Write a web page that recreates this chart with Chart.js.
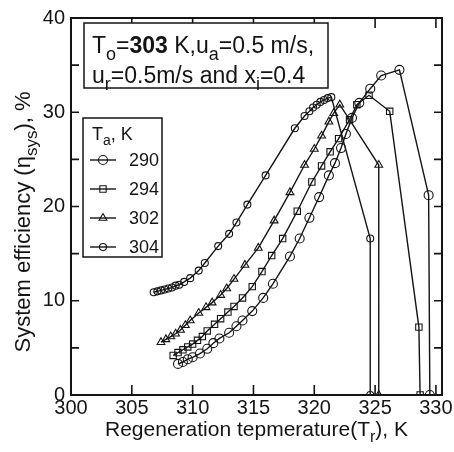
<!DOCTYPE html>
<html>
<head>
<meta charset="utf-8">
<script src="https://cdn.jsdelivr.net/npm/chart.js@4.4.0/dist/chart.umd.min.js"></script>
<style>
  body { margin: 0; background: #fff; }
  #wrap { width: 454px; height: 452px; }
</style>
</head>
<body>
<div id="wrap"><canvas id="effChart" width="454" height="452"></canvas></div>
<script>
// tick values
const xTickVals = [300, 305, 310, 315, 320, 325, 330];
const yTickVals = [0, 10, 20, 30, 40];

// ambient temperature levels (legend)
const seriesNames = ['290', '294', '302', '304'];

// Ta = 290 K
const tr290 = [308.8, 309.2, 309.6, 310.0, 310.6, 311.2, 311.7, 312.2, 313.0, 313.6, 314.1, 314.9, 315.8, 316.6, 318.0, 318.8, 319.6, 320.4, 321.2, 321.7, 322.2, 322.6, 323.1, 323.7, 324.6, 325.5, 327.0, 329.4, 329.5];
const eta290 = [3.3, 3.5, 3.8, 4.0, 4.4, 4.9, 5.5, 6.0, 6.6, 7.3, 7.9, 8.9, 10.3, 11.8, 14.7, 16.6, 18.8, 21.0, 23.3, 24.6, 26.2, 27.7, 29.4, 31.0, 32.5, 33.9, 34.5, 21.2, 0];

// Ta = 294 K
const tr294 = [308.4, 308.8, 309.2, 309.6, 310.0, 310.4, 310.8, 311.2, 311.8, 312.3, 312.9, 313.4, 314.1, 314.9, 315.7, 316.5, 317.4, 318.6, 319.8, 320.6, 321.3, 322.0, 322.9, 323.5, 324.5, 326.2, 328.6, 328.7];
const eta294 = [4.2, 4.5, 4.8, 5.1, 5.4, 5.8, 6.2, 6.8, 7.5, 8.1, 8.8, 9.4, 10.3, 11.5, 13.1, 14.8, 16.6, 19.5, 22.6, 24.3, 25.8, 27.2, 29.2, 30.8, 31.8, 30.1, 7.2, 0];

// Ta = 302 K
const tr302 = [307.4, 307.8, 308.2, 308.6, 309.0, 309.4, 309.8, 310.5, 311.1, 311.6, 312.3, 312.8, 313.4, 314.3, 315.4, 316.7, 318.0, 319.2, 320.0, 320.6, 321.2, 321.6, 322.1, 325.3, 325.3];
const eta302 = [5.6, 5.9, 6.2, 6.5, 6.9, 7.4, 7.9, 8.7, 9.3, 9.8, 10.6, 11.3, 12.3, 13.8, 15.6, 18.5, 21.5, 24.4, 26.1, 27.5, 29.0, 29.9, 30.8, 24.4, 0];

// Ta = 304 K
const tr304 = [306.8, 307.1, 307.4, 307.7, 308.0, 308.3, 308.6, 308.9, 309.3, 309.8, 310.5, 311.0, 312.1, 313.0, 313.6, 314.5, 316.0, 318.4, 319.2, 319.6, 319.9, 320.2, 320.5, 320.8, 321.1, 321.4, 324.6, 324.6];
const eta304 = [10.9, 11.0, 11.1, 11.2, 11.3, 11.4, 11.6, 11.7, 12.0, 12.4, 13.2, 14.0, 15.8, 17.1, 18.3, 20.2, 23.3, 28.3, 29.6, 30.1, 30.5, 30.8, 31.1, 31.3, 31.5, 31.6, 16.6, 0];

const INK = '#141414';
const FONT = '"Liberation Sans", Arial, sans-serif';

const markerStyles = [
    { pointStyle: 'circle', radius: 4.5 },
    { pointStyle: 'rect', radius: 4.5 },
    { pointStyle: 'triangle', radius: 4.5 },
    { pointStyle: 'circle', radius: 3.5 }
];

function pts(xs, ys) {
    return xs.map((x, i) => ({ x: x, y: ys[i] }));
}

function makeSet(i, xs, ys) {
    return {
        label: seriesNames[i],
        data: pts(xs, ys),
        showLine: true,
        borderColor: INK,
        borderWidth: 1.4,
        backgroundColor: 'rgba(0,0,0,0)',
        pointStyle: markerStyles[i].pointStyle,
        pointRadius: markerStyles[i].radius,
        pointBorderWidth: 1.1,
        pointBorderColor: INK,
        pointBackgroundColor: 'rgba(0,0,0,0)',
        tension: 0
    };
}

// text with subscripts / bold parts
function fontFor(kind, size) {
    if (kind === 'sub') return Math.round(size * 0.78) + 'px ' + FONT;
    if (kind === 'b') return 'bold ' + size + 'px ' + FONT;
    return size + 'px ' + FONT;
}
function richWidth(ctx, parts, size) {
    let w = 0;
    parts.forEach(p => { ctx.font = fontFor(p[1], size); w += ctx.measureText(p[0]).width; });
    return w;
}
function drawRich(ctx, parts, x, y, size, align) {
    let cx = align === 'center' ? x - richWidth(ctx, parts, size) / 2 : x;
    ctx.textAlign = 'left';
    ctx.textBaseline = 'alphabetic';
    parts.forEach(p => {
        ctx.font = fontFor(p[1], size);
        ctx.fillText(p[0], cx, p[1] === 'sub' ? y + size * 0.3 : y);
        cx += ctx.measureText(p[0]).width;
    });
}

const xTitle = [['Regeneration tepmerature(T', ''], ['r', 'sub'], ['), K', '']];
const yTitle = [['System efficiency (\u03b7', ''], ['sys', 'sub'], ['), %', '']];
const noteLine1 = [['T', ''], ['o', 'sub'], ['=', ''], ['303', 'b'], [' K,u', ''], ['a', 'sub'], ['=0.5 m/s,', '']];
const noteLine2 = [['u', ''], ['r', 'sub'], ['=0.5m/s and x', ''], ['i', 'sub'], ['=0.4', '']];
const legendTitle = [['T', ''], ['a', 'sub'], [', K', '']];

const decorPlugin = {
    id: 'decor',
    afterDraw(chart) {
        const ctx = chart.ctx;
        const a = chart.chartArea;
        const xs = chart.scales.x, ys = chart.scales.y;
        ctx.save();
        ctx.strokeStyle = INK;
        ctx.fillStyle = INK;

        // frame
        ctx.lineWidth = 2;
        ctx.strokeRect(a.left, a.top, a.right - a.left, a.bottom - a.top);

        // inward ticks
        ctx.lineWidth = 1.6;
        ctx.beginPath();
        for (let v = 305; v <= 330; v += 5) {
            const px = xs.getPixelForValue(v);
            ctx.moveTo(px, a.bottom); ctx.lineTo(px, a.bottom - 10);
            ctx.moveTo(px, a.top); ctx.lineTo(px, a.top + 10);
        }
        for (let v = 5; v < 40; v += 5) {
            const py = ys.getPixelForValue(v);
            ctx.moveTo(a.left, py); ctx.lineTo(a.left + 8, py);
            ctx.moveTo(a.right, py); ctx.lineTo(a.right - 8, py);
        }
        ctx.stroke();

        // axis titles
        drawRich(ctx, xTitle, (a.left + a.right) / 2, 436, 21, 'center');
        ctx.save();
        ctx.translate(30, 222);
        ctx.rotate(-Math.PI / 2);
        drawRich(ctx, yTitle, 0, 0, 22, 'center');
        ctx.restore();

        // condition note
        ctx.lineWidth = 1.5;
        ctx.fillStyle = '#fff';
        ctx.fillRect(84, 23, 244, 65);
        ctx.strokeRect(84, 23, 244, 65);
        ctx.fillStyle = INK;
        drawRich(ctx, noteLine1, 92, 53, 23, 'left');
        drawRich(ctx, noteLine2, 92, 83, 23, 'left');

        // legend
        ctx.fillStyle = '#fff';
        ctx.fillRect(83, 118, 79, 139);
        ctx.strokeRect(83, 118, 79, 139);
        ctx.fillStyle = INK;
        drawRich(ctx, legendTitle, 92, 140, 18, 'left');
        seriesNames.forEach((name, i) => {
            const yy = 160 + i * 29;
            ctx.lineWidth = 1.4;
            ctx.beginPath();
            ctx.moveTo(90, yy); ctx.lineTo(116, yy);
            ctx.stroke();
            ctx.lineWidth = 1.1;
            ctx.fillStyle = 'rgba(0,0,0,0)';
            Chart.helpers.drawPoint(ctx, {
                pointStyle: markerStyles[i].pointStyle,
                radius: markerStyles[i].radius,
                borderWidth: 1.1,
                rotation: 0
            }, 103, yy);
            ctx.fillStyle = INK;
            ctx.font = '18px ' + FONT;
            ctx.textAlign = 'left';
            ctx.textBaseline = 'middle';
            ctx.fillText(name, 129, yy + 1);
        });
        ctx.restore();
    }
};

const chart = new Chart(document.getElementById('effChart').getContext('2d'), {
    type: 'scatter',
    data: {
        datasets: [
            makeSet(0, tr290, eta290),
            makeSet(1, tr294, eta294),
            makeSet(2, tr302, eta302),
            makeSet(3, tr304, eta304)
        ]
    },
    options: {
        responsive: false,
        animation: false,
        devicePixelRatio: 1,
        layout: { padding: { top: 14, right: 12, left: 0, bottom: 0 } },
        plugins: {
            legend: { display: false },
            tooltip: { enabled: false }
        },
        scales: {
            x: {
                type: 'linear',
                min: 300,
                max: 330.5,
                afterBuildTicks: (scale) => { scale.ticks = xTickVals.map(v => ({ value: v })); },
                afterFit: (scale) => { scale.height = 57; },
                grid: { display: false, drawTicks: false },
                border: { display: false },
                ticks: { color: INK, font: { family: FONT, size: 20 }, padding: 1, maxRotation: 0 }
            },
            y: {
                type: 'linear',
                min: 0,
                max: 40,
                afterBuildTicks: (scale) => { scale.ticks = yTickVals.map(v => ({ value: v })); },
                afterFit: (scale) => { scale.width = 71; },
                grid: { display: false, drawTicks: false },
                border: { display: false },
                ticks: { color: INK, font: { family: FONT, size: 20 }, padding: 6 }
            }
        }
    },
    plugins: [decorPlugin]
});
</script>
</body>
</html>
